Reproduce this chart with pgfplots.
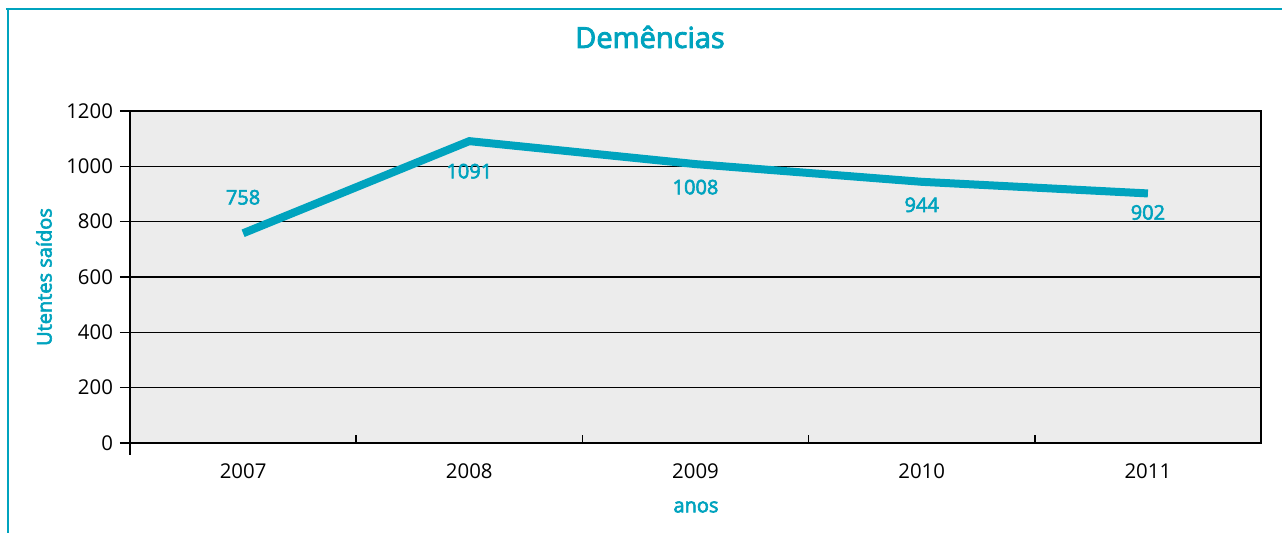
\documentclass[border=0pt]{standalone}
\usepackage{fontspec}
\setmainfont{Open Sans}
\newfontfamily\semib[FakeBold=3]{Open Sans}
\usepackage{pgfplots}
\pgfplotsset{compat=1.18}
\usepackage{pgfplotstable}
\definecolor{tealc}{RGB}{0,163,190}
\definecolor{bgc}{RGB}{236,236,236}

\pgfplotstableread{
x y off
1 758 18
2 1091 -15
3 1008 -11.5
4 944 -11.5
5 902 -9.5
}\datatable

\begin{document}
\begin{tikzpicture}
\useasboundingbox (-65pt,-45pt) rectangle (576pt,221.5pt);
\begin{axis}[
 at={(0,0)}, anchor=south west,
 scale only axis, width=565.5pt, height=166pt,
 xmin=0.5, xmax=5.5, ymin=0, ymax=1200,
 xtick={1,2,3,4,5}, xticklabels={2007,2008,2009,2010,2011},
 minor xtick={1.5,2.5,3.5,4.5},
 ytick={0,200,...,1200},
 tick align=inside,
 major tick length=5pt, minor tick length=4pt,
 major x tick style={draw=none},
 minor x tick style={black, line width=0.7pt},
 ytick style={xshift=-5pt, black, line width=0.7pt},
 xtick pos=bottom, ytick pos=left,
 ymajorgrids, grid style={black, line width=0.6pt},
 axis background/.style={fill=bgc},
 axis line style={black, line width=0.8pt},
 tick label style={font=\fontsize{10.2}{12}\selectfont, black},
 /pgf/number format/assume math mode=true,
 /pgf/number format/1000 sep={},
 yticklabel style={xshift=-5pt},
 xticklabel style={yshift=-6.6pt},
 clip=false,
]
\addplot[tealc, line width=4pt, mark=none] table[x=x,y=y]{\datatable};
\addplot[draw=none, mark=none, nodes near coords, point meta=explicit symbolic,
  visualization depends on={\thisrow{off} \as \off},
  every node near coord/.append style={anchor=center, inner sep=0pt, yshift=\off pt,
    font=\fontsize{10}{12}\selectfont\semib, text=tealc}]
  table[x=x, y=y, meta=y]{\datatable};
\draw[black, line width=0.8pt] (rel axis cs:0,0) -- ++(0pt,-6pt);
\end{axis}
\draw[tealc, line width=1.2pt] (-62pt,217pt) -- (576pt,217pt);
\draw[tealc, line width=1.2pt] (-61pt,217.6pt) -- (-61pt,-45pt);
\node[text=tealc, font=\fontsize{14.5}{16}\selectfont\semib] at (260pt,203pt) {Demências};
\node[text=tealc, font=\fontsize{10}{12}\selectfont\semib, rotate=90] at (-43pt,83pt) {Utentes saídos};
\node[text=tealc, font=\fontsize{10}{12}\selectfont\semib] at (283pt,-32pt) {anos};
\end{tikzpicture}
\end{document}
